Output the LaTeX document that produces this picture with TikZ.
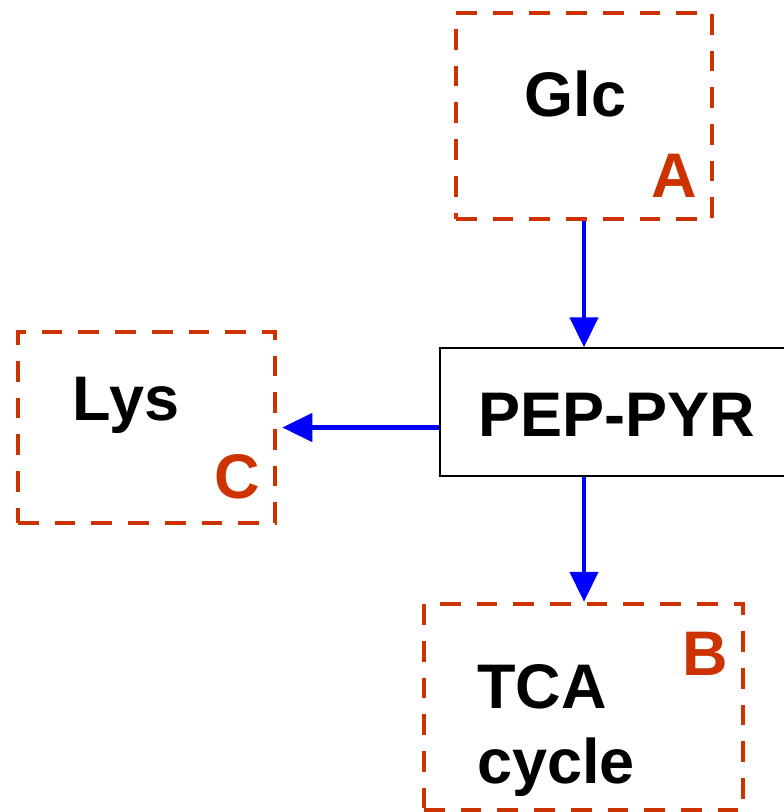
\documentclass[tikz,border=0pt]{standalone}
\usepackage{fontspec}
\setmainfont{Liberation Sans}
\usetikzlibrary{arrows.meta}
\definecolor{boxred}{HTML}{CC3300}
\definecolor{arrblue}{HTML}{0000FF}
\begin{document}
\begin{tikzpicture}[x=1pt,y=-1pt,
  dbox/.style={draw=boxred,line width=4.5pt,dash pattern=on 20.7pt off 16pt,rectangle,inner sep=0pt},
  sbox/.style={draw=black,line width=1.5pt,rectangle,inner sep=0pt},
  lbl/.style={font=\fontsize{63}{75}\selectfont\bfseries,text=black,anchor=base,inner sep=0pt},
  tag/.style={font=\fontsize{63}{75}\selectfont\bfseries,text=boxred,anchor=base,inner sep=0pt},
  flow/.style={draw=arrblue,line width=4.5pt,-{Triangle[length=30pt,width=28pt]}}]
\useasboundingbox (0,0) rectangle (784,812);
\clip (0,0) rectangle (784,812);
\node[dbox,minimum width=256pt,minimum height=206pt] (glc) at (584,116) {};
\node[sbox,minimum width=360pt,minimum height=128pt] (pep) at (620,412) {};
\node[dbox,minimum width=257pt,minimum height=191pt] (lys) at (146.5,427.5) {};
\node[dbox,minimum width=319pt,minimum height=206pt] (tca) at (583.5,707) {};
\node[lbl] (glct) at (575.5,116) {Glc};
\node[tag] (ta) at (674,197) {A};
\node[lbl] (pept) at (617,436) {PEP-PYR};
\node[lbl] (lyst) at (126,420) {Lys};
\node[tag] (tc) at (237.5,498) {C};
\node[tag] (tb) at (705.5,675) {B};
\node[lbl,anchor=base west] (tcat) at (477,708) {TCA};
\node[lbl,anchor=base west] (cyct) at (477,783) {cycle};
\draw[flow] (glc.south) -- (glc.south |- pep.north);
\draw[flow,shorten >=5pt] (lys.east -| pep.west) -- (lys.east);
\draw[flow] (pep.south -| glc.south) -- (tca.north -| glc.south);
\end{tikzpicture}
\end{document}
